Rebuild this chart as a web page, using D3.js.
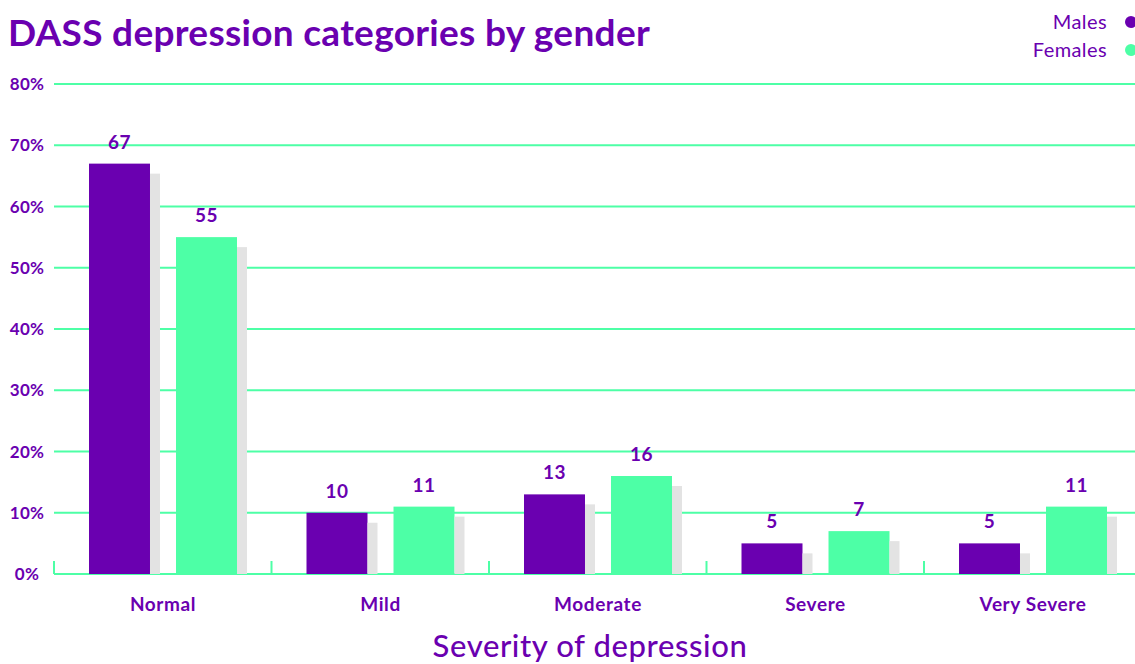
<!DOCTYPE html>
<html lang="en">
<head>
<meta charset="UTF-8">
<title>DASS depression categories by gender</title>
<style>
  body { margin: 0; background: #fff; }
  svg text { font-family: Lato, "Open Sans", sans-serif; fill: #6a00b0; }
</style>
</head>
<body>
<div id="chart"></div>
<script src="https://d3js.org/d3.v7.min.js"></script>
<script>
const categories = ["Normal", "Mild", "Moderate", "Severe", "Very Severe"];
const series = ["Males", "Females"];
const males = [67, 10, 13, 5, 5];
const females = [55, 11, 16, 7, 11];
const yTicks = [0, 10, 20, 30, 40, 50, 60, 70, 80];

const W = 1135, H = 664;
const purple = "#6a00b0", green = "#4dffa6", shadow = "#e3e3e3";

const svg = d3.select("#chart").append("svg")
  .attr("width", W).attr("height", H);

const x = d3.scaleBand().domain(categories).range([54, 1141.5]);
const x1 = d3.scaleBand().domain(series).range([35, 183]).paddingInner(0.299);
const y = d3.scaleLinear().domain([0, 80]).range([574, 84]);
const color = d3.scaleOrdinal().domain(series).range([purple, green]);

// gridlines
svg.append("g").selectAll("line").data(yTicks).join("line")
  .attr("x1", 54).attr("x2", W)
  .attr("y1", d => y(d)).attr("y2", d => y(d))
  .attr("stroke", green).attr("stroke-width", 2);

// y labels
svg.append("g").selectAll("text").data(yTicks).join("text")
  .attr("x", 27).attr("y", d => y(d) + 6)
  .attr("text-anchor", "middle")
  .style("font-size", "17px").style("font-weight", 700)
  .style("letter-spacing", "0.3px")
  .text(d => d + "%");

// category separators
svg.append("g").selectAll("line").data(categories).join("line")
  .attr("x1", d => x(d)).attr("x2", d => x(d))
  .attr("y1", 561).attr("y2", 574)
  .attr("stroke", green).attr("stroke-width", 2);

const rows = categories.map((c, i) => ({
  cat: c,
  vals: [{ s: "Males", v: males[i] }, { s: "Females", v: females[i] }]
}));

const groups = svg.append("g").selectAll("g").data(rows).join("g")
  .attr("transform", d => `translate(${x(d.cat)},0)`);

// drop shadows (stop at the baseline)
groups.selectAll("rect.shadow").data(d => d.vals).join("rect")
  .attr("class", "shadow")
  .attr("x", d => x1(d.s) + 10)
  .attr("y", d => y(d.v) + 10)
  .attr("width", 10)
  .attr("height", d => Math.max(0, y(0) - y(d.v) - 10))
  .attr("fill", shadow);

groups.selectAll("rect.bar").data(d => d.vals).join("rect")
  .attr("class", "bar")
  .attr("x", d => x1(d.s))
  .attr("y", d => y(d.v))
  .attr("width", x1.bandwidth())
  .attr("height", d => y(0) - y(d.v))
  .attr("fill", d => color(d.s));

// shadow strip on the right side of each bar
groups.selectAll("rect.side").data(d => d.vals).join("rect")
  .attr("class", "side")
  .attr("x", d => x1(d.s) + x1.bandwidth())
  .attr("y", d => y(d.v) + 10)
  .attr("width", 10)
  .attr("height", d => Math.max(0, y(0) - y(d.v) - 10))
  .attr("fill", shadow);

groups.selectAll("text.val").data(d => d.vals).join("text")
  .attr("class", "val")
  .attr("x", d => x1(d.s) + x1.bandwidth() / 2)
  .attr("y", d => y(d.v) - 15)
  .attr("text-anchor", "middle")
  .style("font-size", "19px").style("font-weight", 700)
  .style("letter-spacing", "0.5px")
  .text(d => d.v);

// category labels
svg.append("g").selectAll("text").data(categories).join("text")
  .attr("x", d => x(d) + x1.range()[0] + (x1.range()[1] - x1.range()[0]) / 2)
  .attr("y", 611)
  .attr("text-anchor", "middle")
  .style("font-size", "19px").style("font-weight", 700)
  .style("letter-spacing", "0.6px")
  .text(d => d);

// axis title
svg.append("text")
  .attr("x", 590).attr("y", 657)
  .attr("text-anchor", "middle")
  .style("font-size", "31px").style("font-weight", 500)
  .style("letter-spacing", "0.6px")
  .text("Severity of depression");

// title
svg.append("text")
  .attr("x", 8).attr("y", 46)
  .style("font-size", "37px").style("font-weight", 700)
  .style("letter-spacing", "0.3px")
  .text("DASS depression categories by gender");

// legend
const legend = svg.append("g").selectAll("g").data(series).join("g")
  .attr("transform", (d, i) => `translate(0,${22 + i * 28})`);
legend.append("text")
  .attr("x", 1107).attr("y", 7)
  .attr("text-anchor", "end")
  .style("font-size", "20px")
  .style("letter-spacing", "0.4px")
  .text(d => d);
legend.append("circle")
  .attr("cx", 1131).attr("cy", 0).attr("r", 6)
  .attr("fill", d => color(d));
</script>
</body>
</html>
